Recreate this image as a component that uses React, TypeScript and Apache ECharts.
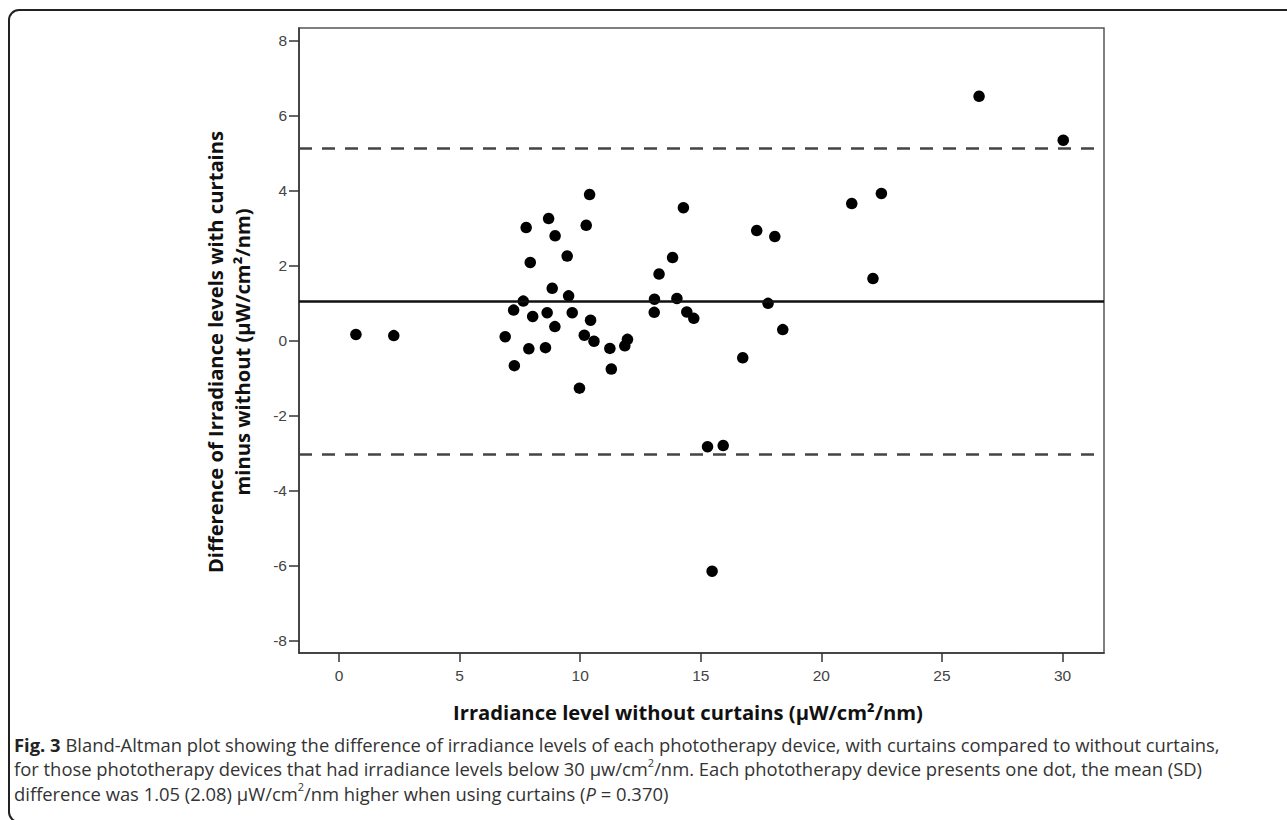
import React, { useEffect, useRef } from "react";
import * as echarts from "echarts";

// Irradiance level without curtains (µW/cm²/nm)
const xValues = [
  0.7, 2.27, 6.89, 7.24, 7.27, 7.64, 7.76, 7.87, 7.93, 8.03,
  8.56, 8.63, 8.69, 8.84, 8.95, 8.96, 9.46, 9.52, 9.67, 9.97,
  10.17, 10.25, 10.39, 10.43, 10.57, 11.23, 11.29, 11.85, 11.96, 13.07,
  13.08, 13.27, 13.83, 14.01, 14.28, 14.42, 14.71, 15.28, 15.47, 15.93,
  16.74, 17.32, 17.79, 18.07, 18.4, 21.26, 22.14, 22.49, 26.54, 30.03,
];
// Difference with curtains minus without
const yValues = [
  0.16, 0.13, 0.1, 0.81, -0.67, 1.05, 3.01, -0.22, 2.08, 0.64,
  -0.19, 0.74, 3.25, 1.39, 0.37, 2.79, 2.25, 1.19, 0.74, -1.27,
  0.14, 3.07, 3.89, 0.54, -0.02, -0.21, -0.76, -0.14, 0.03, 0.75,
  1.1, 1.77, 2.21, 1.12, 3.54, 0.76, 0.59, -2.83, -6.15, -2.8,
  -0.46, 2.93, 0.99, 2.77, 0.29, 3.65, 1.65, 3.92, 6.51, 5.34,
];
const meanDiff = 1.05;
const upperLimit = 5.13;
const lowerLimit = -3.03;
const xTicks = [0, 5, 10, 15, 20, 25, 30];
const yTicks = [-8, -6, -4, -2, 0, 2, 4, 6, 8];
const xRange = [-1.66, 31.72];
const yRange = [-8.33, 8.33];

const xTitle = "Irradiance level without curtains (µW/cm²/nm)";
const yTitle = "Difference of Irradiance levels with curtains\nminus without (µW/cm²/nm)";
const captionLines = [
  "{b|Fig. 3}{n| Bland-Altman plot showing the difference of irradiance levels of each phototherapy device, with curtains compared to without curtains,}",
  "{n|for those phototherapy devices that had irradiance levels below 30 µw/cm}{sup|2}{n|/nm. Each phototherapy device presents one dot, the mean (SD)}",
  "{n|difference was 1.05 (2.08) µW/cm}{sup|2}{n|/nm higher when using curtains (}{i|P}{n| = 0.370)}",
];

export default function App() {
  const ref = useRef<HTMLDivElement>(null);
  useEffect(() => {
    const chart = echarts.init(ref.current!, null, { renderer: "svg" });
    const capFont = '"Open Sans", "Noto Sans", sans-serif';
    const capSize = 18.4;
    const capLH = 24.5;
    const tickFont = '"Liberation Sans", Arial, sans-serif';
    chart.setOption({
      animation: false,
      backgroundColor: "#fff",
      grid: {
        left: 299,
        top: 28,
        width: 805,
        height: 625,
        show: true,
        borderColor: "#555",
        borderWidth: 1.5,
        containLabel: false,
      },
      xAxis: {
        type: "value",
        min: xRange[0],
        max: xRange[1],
        axisLine: { show: true, onZero: false, lineStyle: { color: "#333", width: 1.5 } },
        axisTick: { show: true, customValues: xTicks, length: 9, lineStyle: { color: "#333", width: 1.5 } },
        axisLabel: {
          customValues: xTicks,
          margin: 14,
          color: "#444",
          fontFamily: tickFont,
          fontSize: 15.5,
        },
        splitLine: { show: false },
      },
      yAxis: {
        type: "value",
        min: yRange[0],
        max: yRange[1],
        axisLine: { show: true, onZero: false, lineStyle: { color: "#333", width: 1.5 } },
        axisTick: { show: true, customValues: yTicks, length: 10, lineStyle: { color: "#333", width: 1.5 } },
        axisLabel: {
          customValues: yTicks,
          margin: 12,
          color: "#444",
          fontFamily: tickFont,
          fontSize: 15.5,
        },
        splitLine: { show: false },
      },
      series: [
        {
          type: "scatter",
          data: xValues.map((x, i) => [x, yValues[i]]),
          symbol: "circle",
          symbolSize: 11.5,
          itemStyle: { color: "#000", opacity: 1 },
          markLine: {
            silent: true,
            symbol: ["none", "none"],
            label: { show: false },
            data: [
              { yAxis: meanDiff, lineStyle: { type: "solid", color: "#111", width: 2.5 } },
              { yAxis: upperLimit, lineStyle: { type: [13, 10], color: "#444", width: 2.5 } },
              { yAxis: lowerLimit, lineStyle: { type: [13, 10], color: "#444", width: 2.5 } },
            ],
          },
        },
      ],
      graphic: [
        {
          type: "rect",
          shape: { x: 9, y: 10, width: 1400, height: 812, r: 10 },
          style: { fill: "none", stroke: "#222", lineWidth: 2 },
          silent: true,
        },
        {
          type: "text",
          x: 228,
          y: 352,
          rotation: Math.PI / 2,
          style: {
            text: yTitle,
            textAlign: "center",
            textVerticalAlign: "middle",
            fontFamily: '"Open Sans", sans-serif',
            fontWeight: "bold",
            fontSize: 20.2,
            lineHeight: 27,
            fill: "#111",
          },
        },
        {
          type: "text",
          x: 688,
          y: 712,
          style: {
            text: xTitle,
            textAlign: "center",
            textVerticalAlign: "middle",
            fontFamily: '"Open Sans", sans-serif',
            fontWeight: "bold",
            fontSize: 20.2,
            fill: "#111",
          },
        },
        {
          type: "text",
          x: 14,
          y: 732,
          style: {
            text: captionLines.join("\n"),
            textAlign: "left",
            textVerticalAlign: "top",
            fontFamily: capFont,
            fontSize: capSize,
            lineHeight: capLH,
            fill: "#333",
            rich: {
              n: { fontFamily: capFont, fontSize: capSize, lineHeight: capLH, fill: "#333" },
              b: { fontFamily: capFont, fontSize: capSize, lineHeight: capLH, fontWeight: "bold", fill: "#222" },
              i: { fontFamily: capFont, fontSize: capSize, lineHeight: capLH, fontStyle: "italic", fill: "#333" },
              sup: { fontFamily: capFont, fontSize: 11, lineHeight: 16, verticalAlign: "top", fill: "#333" },
            },
          },
        },
      ],
    });
    return () => chart.dispose();
  }, []);
  return (
    <div
      ref={ref}
      style={{ position: "fixed", left: 0, top: 0, width: 1287, height: 820, background: "#fff" }}
    />
  );
}
